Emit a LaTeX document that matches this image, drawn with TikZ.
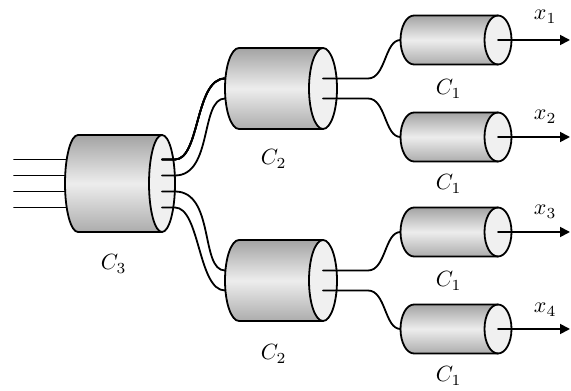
\documentclass[tikz,border=0pt]{standalone}
\usetikzlibrary{arrows.meta}
\colorlet{drumdark}{black!36}
\colorlet{drumlight}{black!7}
\colorlet{drumface}{black!6}
% a drum: centre coordinate, x radius and y radius of its ends
\newcommand\drum[3]{%
\shade[top color=drumdark, bottom color=drumdark!90, middle color=drumlight]
  ([shift={(-42,#3)}]#1) -- ([shift={(42,#3)}]#1) -- ([shift={(42,-#3)}]#1) -- ([shift={(-42,-#3)}]#1)
  arc[start angle=270, end angle=90, x radius=#2, y radius=#3] -- cycle;
\coordinate (#1-l) at ([xshift=-42-#2]#1);
\coordinate (#1-c) at ([xshift=42]#1);
\coordinate (#1-r) at ([xshift=42+#2]#1);
\draw[fill=drumface] (#1-c) ellipse[x radius=#2, y radius=#3];
\draw ([shift={(42,#3)}]#1) -- ([shift={(-42,#3)}]#1)
  arc[start angle=90, end angle=270, x radius=#2, y radius=#3] -- ([shift={(42,-#3)}]#1);
}
\tikzset{lab/.style={anchor=base west, inner sep=0pt, scale=2.2}}
\begin{document}
\begin{tikzpicture}[x=1pt, y=1pt, line width=1.8pt, line join=round, line cap=round,
  >={Triangle[length=10pt,width=10pt]}]
\useasboundingbox (0,0) rectangle (571,391);
\coordinate (c3) at (120,207.5);
\coordinate (c2a) at (281,302.5);
\coordinate (c2b) at (281,110.5);
\coordinate (c1a) at (456,351);
\coordinate (c1b) at (456,254);
\coordinate (c1c) at (456,159);
\coordinate (c1d) at (456,62);
% inputs
\foreach \o [count=\i] in {24,8,-8,-24}{
  \coordinate (in\i) at (14,207.5+\o);
  \draw (in\i) -- ([yshift=\o]c3);
}
\drum{c3}{13}{48.5}
\drum{c2a}{14}{40.5}
\drum{c2b}{14}{40.5}
\foreach \n in {c1a,c1b,c1c,c1d}
  \drum{\n}{13.5}{24.5}
% C3 to C2
\draw ([yshift=24]c3-c) -- ([yshift=24]c3-r) .. controls +(25,0) and +(-30,0) .. ([yshift=10]c2a-l);
\draw ([yshift=8]c3-c) -- ([yshift=8]c3-r) .. controls +(38,0) and +(-25,0) .. ([yshift=-10]c2a-l);
\draw ([yshift=-8]c3-c) -- ([yshift=-8]c3-r) .. controls +(40,0) and +(-25,0) .. ([yshift=10]c2b-l);
\draw ([yshift=-24]c3-c) -- ([yshift=-24]c3-r) .. controls +(25,0) and +(-27,0) .. ([yshift=-10]c2b-l);
% C2 to C1
\draw ([yshift=10]c2a-c) -- ++(45,0) .. controls +(18,0) and +(-16,0) .. (c1a-l);
\draw ([yshift=-10]c2a-c) -- ++(45,0) .. controls +(18,0) and +(-16,0) .. (c1b-l);
\draw ([yshift=10]c2b-c) -- ++(45,0) .. controls +(18,0) and +(-16,0) .. (c1c-l);
\draw ([yshift=-10]c2b-c) -- ++(45,0) .. controls +(18,0) and +(-16,0) .. (c1d-l);
% outputs
\foreach \n [count=\i] in {c1a,c1b,c1c,c1d}{
  \coordinate (out\i) at ([xshift=72]\n-c);
  \draw[->] (\n-c) -- (out\i);
}
\node[lab] (x1) at (532,371) {$x_1$};
\node[lab] (x2) at (532,271) {$x_2$};
\node[lab] (x3) at (532,176) {$x_3$};
\node[lab] (x4) at (532,78) {$x_4$};
\node[lab] (l3) at (99,121) {$C_3$};
\node[lab] (l2a) at (259,226) {$C_2$};
\node[lab] (l2b) at (259,31) {$C_2$};
\node[lab] (l1a) at (434,296) {$C_1$};
\node[lab] (l1b) at (434,201) {$C_1$};
\node[lab] (l1c) at (434,104) {$C_1$};
\node[lab] (l1d) at (434,9) {$C_1$};
\end{tikzpicture}
\end{document}
